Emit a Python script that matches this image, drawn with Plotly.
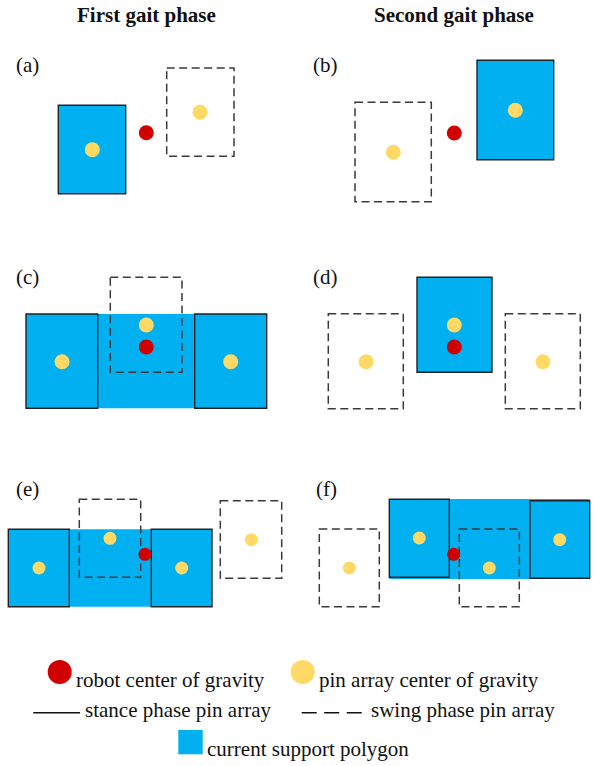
import plotly.graph_objects as go

W, H = 596, 766

# ---------------- data (pixel-space diagram coordinates, y grows downward) ----------------
COLUMN_TITLES = ["First gait phase", "Second gait phase"]
COLUMN_TITLE_X = [146.7, 454.0]
PANEL_LABELS = ["(a)", "(b)", "(c)", "(d)", "(e)", "(f)"]
PANEL_LABEL_X = [13.5, 311.0, 13.5, 311.0, 13.5, 313.5]
PANEL_LABEL_Y = [64.5, 64.5, 277.0, 277.0, 488.5, 488.5]

# current support polygons (x0, y0, x1, y1)
SUPPORT_POLYGONS = [
    (58.3, 105.3, 125.7, 193.7),
    (477.0, 60.3, 553.7, 159.7),
    (26.0, 314.0, 266.7, 408.3),
    (417.0, 277.3, 492.0, 372.3),
    (8.3, 529.3, 212.0, 606.7),
    (389.3, 499.0, 589.7, 579.0),
]
# stance phase pin arrays (solid outline)
STANCE_ARRAYS = [
    (58.3, 105.3, 125.7, 193.7),
    (477.0, 60.3, 553.7, 159.7),
    (26.0, 314.0, 97.7, 408.3),
    (194.7, 314.0, 266.7, 408.3),
    (417.0, 277.3, 492.0, 372.3),
    (8.3, 529.3, 69.3, 606.7),
    (151.3, 529.3, 212.0, 606.7),
    (389.3, 499.3, 449.3, 577.3),
    (530.0, 500.7, 589.7, 578.3),
]
# swing phase pin arrays (dashed outline)
SWING_ARRAYS = [
    (166.7, 68.0, 234.0, 156.3),
    (355.0, 102.3, 431.3, 201.7),
    (110.3, 277.3, 182.0, 372.3),
    (328.3, 313.7, 403.3, 408.7),
    (505.3, 313.7, 580.3, 408.7),
    (79.3, 499.3, 140.7, 577.3),
    (220.3, 500.7, 281.7, 578.3),
    (319.3, 529.0, 379.3, 606.7),
    (459.3, 529.0, 519.3, 606.7),
]
# pin array centers of gravity
PIN_COG_X = [92.3, 200.0, 393.3, 515.3, 62.0, 146.3, 230.7, 366.0, 454.3, 543.0,
             39.0, 110.0, 181.7, 251.3, 349.3, 419.3, 489.3, 559.7]
PIN_COG_Y = [149.7, 112.3, 152.3, 110.3, 361.7, 325.0, 361.7, 361.7, 325.0, 361.7,
             568.0, 538.3, 568.0, 539.7, 568.0, 538.0, 568.0, 539.7]
# robot center of gravity
ROBOT_COG_X = [146.3, 454.3, 146.3, 454.3, 145.0, 453.7]
ROBOT_COG_Y = [132.7, 133.0, 347.0, 347.0, 554.3, 554.3]

LEGEND_TEXTS = ["robot center of gravity", "pin array center of gravity",
                "stance phase pin array", "swing phase pin array",
                "current support polygon"]

# ---------------- styles ----------------
BLUE = "#00B0F0"
RED = "#D00000"
YELLOW = "#FFD966"
EDGE = "#1E2328"
DASH_EDGE = "#3A3A3A"
FONT = "Liberation Serif, Times New Roman, serif"
FS = 21

fig = go.Figure()
shapes = []

for (x0, y0, x1, y1) in SUPPORT_POLYGONS:
    shapes.append(dict(type="rect", xref="x", yref="y", x0=x0, y0=y0, x1=x1, y1=y1,
                       fillcolor=BLUE, line=dict(width=0), layer="below"))
for (x0, y0, x1, y1) in STANCE_ARRAYS:
    shapes.append(dict(type="rect", xref="x", yref="y", x0=x0, y0=y0, x1=x1, y1=y1,
                       fillcolor=BLUE, line=dict(color=EDGE, width=1.4), layer="below"))
for (x0, y0, x1, y1) in SWING_ARRAYS:
    shapes.append(dict(type="rect", xref="x", yref="y", x0=x0, y0=y0, x1=x1, y1=y1,
                       fillcolor="rgba(0,0,0,0)", line=dict(color=DASH_EDGE, width=1.5, dash="8px,4.5px"),
                       layer="below"))

# legend line samples & swatch
shapes.append(dict(type="line", xref="x", yref="y", x0=33.3, x1=80.0, y0=712.7, y1=712.7,
                   line=dict(color="#111111", width=1.4)))
shapes.append(dict(type="line", xref="x", yref="y", x0=301.7, x1=361.7, y0=712.7, y1=712.7,
                   line=dict(color="#111111", width=1.6, dash="15px,7.5px")))
shapes.append(dict(type="rect", xref="x", yref="y", x0=178.3, x1=202.7, y0=730.0, y1=754.3,
                   fillcolor=BLUE, line=dict(width=0)))

pin_sizes = [15 if y < 450 else 13 for y in PIN_COG_Y]
robot_sizes = [15 if y < 450 else 13 for y in ROBOT_COG_Y]

fig.add_trace(go.Scatter(x=PIN_COG_X, y=PIN_COG_Y, mode="markers", hoverinfo="skip",
                         marker=dict(color=YELLOW, size=pin_sizes, opacity=1, line=dict(width=0))))
fig.add_trace(go.Scatter(x=ROBOT_COG_X, y=ROBOT_COG_Y, mode="markers", hoverinfo="skip",
                         marker=dict(color=RED, size=robot_sizes, opacity=1, line=dict(width=0))))
# legend dots
fig.add_trace(go.Scatter(x=[59.7], y=[672.0], mode="markers", hoverinfo="skip",
                         marker=dict(color=RED, size=24, opacity=1, line=dict(width=0))))
fig.add_trace(go.Scatter(x=[302.7], y=[672.0], mode="markers", hoverinfo="skip",
                         marker=dict(color=YELLOW, size=24, opacity=1, line=dict(width=0))))

annotations = []
for t, x in zip(COLUMN_TITLES, COLUMN_TITLE_X):
    annotations.append(dict(text="<b>" + t + "</b>", x=x, y=14.5, xref="x", yref="y",
                            xanchor="center", yanchor="middle", showarrow=False,
                            font=dict(family=FONT, size=FS, color="#111111")))
for t, x, y in zip(PANEL_LABELS, PANEL_LABEL_X, PANEL_LABEL_Y):
    annotations.append(dict(text=t, x=x, y=y, xref="x", yref="y",
                            xanchor="left", yanchor="middle", showarrow=False,
                            font=dict(family=FONT, size=FS, color="#111111")))
legend_pos = [(74.3, 680.0), (317.3, 680.0), (82.7, 710.0), (369.0, 710.0), (205.0, 749.3)]
for t, (x, y) in zip(LEGEND_TEXTS, legend_pos):
    annotations.append(dict(text=t, x=x, y=y, xref="x", yref="y",
                            xanchor="left", yanchor="middle", showarrow=False,
                            font=dict(family=FONT, size=FS, color="#111111")))

fig.update_layout(
    width=W, height=H, margin=dict(l=0, r=0, t=0, b=0),
    paper_bgcolor="white", plot_bgcolor="white", showlegend=False,
    xaxis=dict(range=[0, W], visible=False, fixedrange=True),
    yaxis=dict(range=[H, 0], visible=False, fixedrange=True),
    shapes=shapes, annotations=annotations,
)
fig.write_html("out.html", config=dict(displayModeBar=False),
               post_script="document.body.style.margin='0';document.body.style.overflow='hidden';")
